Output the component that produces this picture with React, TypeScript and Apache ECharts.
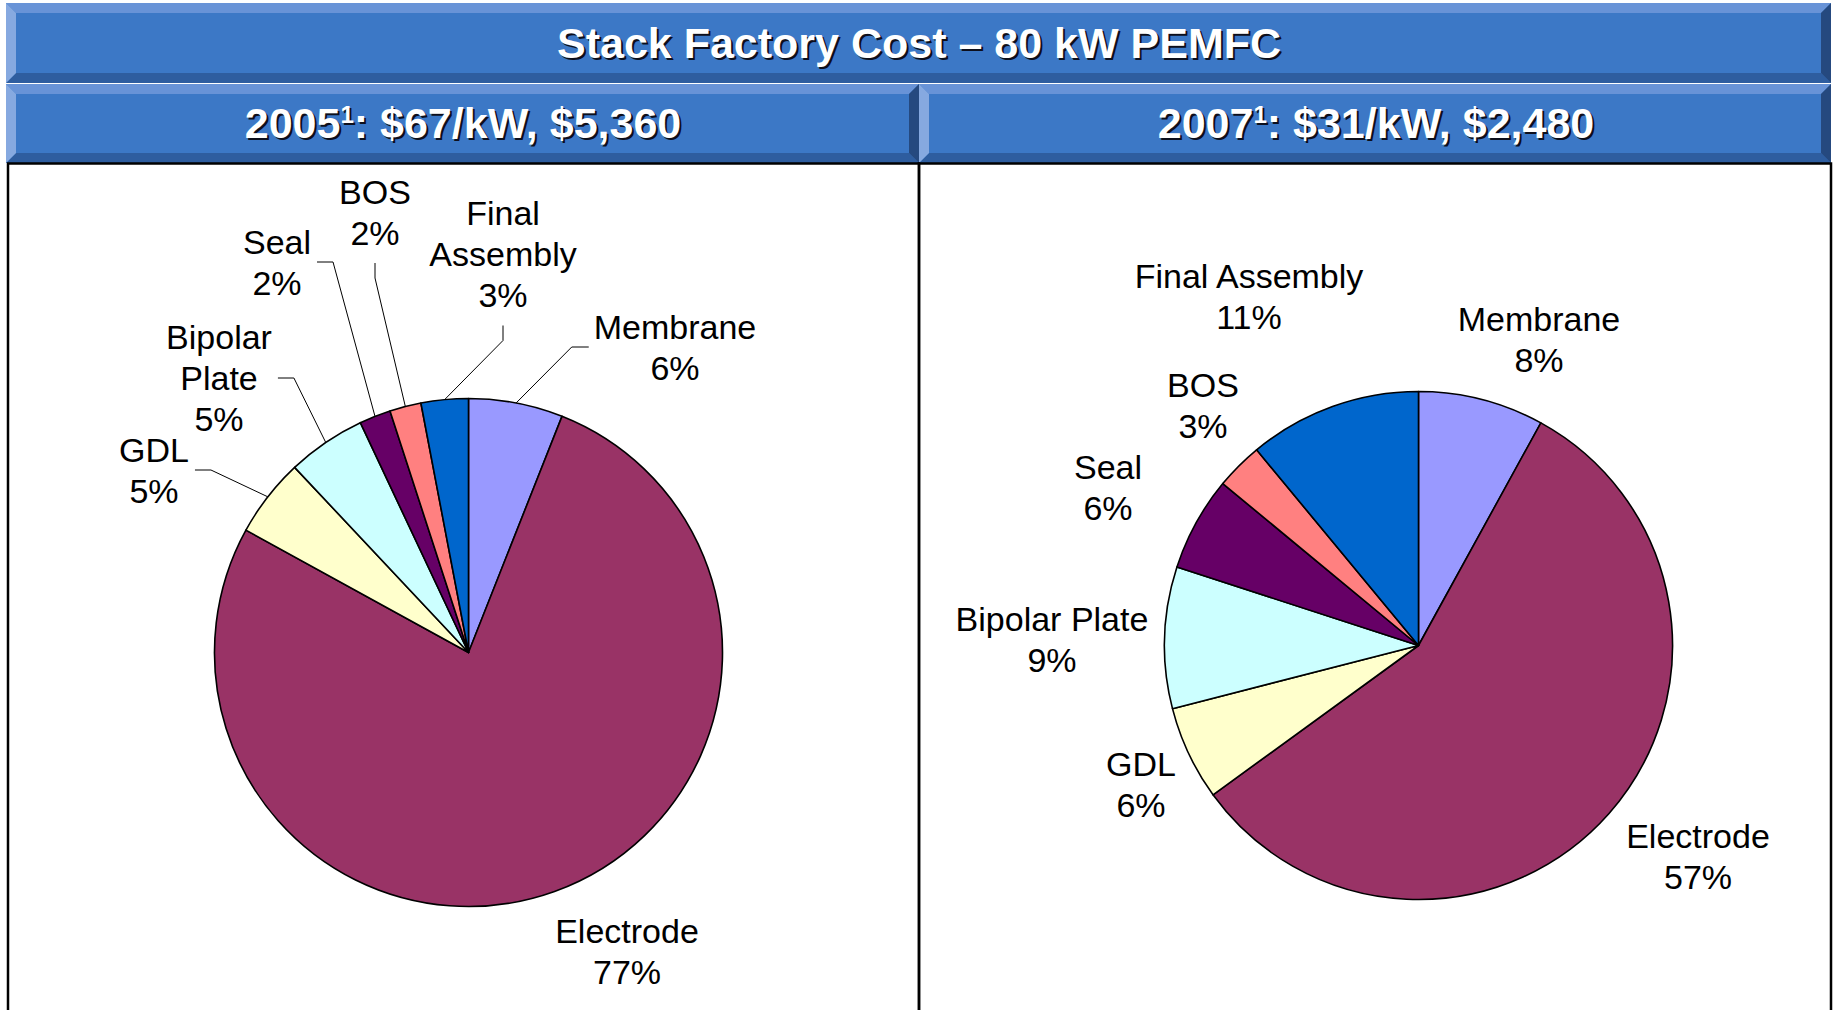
import React, { useEffect, useRef } from 'react';
import * as echarts from 'echarts';

// ---------- data ----------
const categories = ['Membrane', 'Electrode', 'GDL', 'Bipolar Plate', 'Seal', 'BOS', 'Final Assembly'];
const values2005 = [6, 77, 5, 5, 2, 2, 3];
const values2007 = [8, 57, 6, 9, 6, 3, 11];
const sliceColors = ['#9999FF', '#993366', '#FFFFCC', '#CCFFFF', '#660066', '#FF8080', '#0066CC'];
const chartTitle = 'Stack Factory Cost \u2013 80 kW PEMFC';
const panelYears = ['2005', '2007'];
const panelFootnote = '1';
const panelCosts = [': $67/kW, $5,360', ': $31/kW, $2,480'];

// ---------- layout (not data) ----------
const W = 1835;
const H = 1010;
const FONT = '"Liberation Sans", Arial, sans-serif';
// label block centres and which side the leader line attaches to
const leftLabelPos: [number, number, string][] = [
  [675, 347, 'left'],
  [627, 951, 'none'],
  [154, 470, 'right'],
  [219, 378, 'right'],
  [277, 262, 'right'],
  [375, 212, 'bottom'],
  [503, 254, 'bottom'],
];
const rightLabelPos: [number, number, string][] = [
  [1539, 339, 'none'],
  [1698, 856, 'none'],
  [1141, 784, 'none'],
  [1052, 639, 'none'],
  [1108, 487, 'none'],
  [1203, 405, 'none'],
  [1249, 296, 'none'],
];
const leftWrap: Record<string, string> = {
  'Bipolar Plate': 'Bipolar\nPlate',
  'Final Assembly': 'Final\nAssembly',
};

const C_MAIN = '#3C78C6';
const C_TOP = '#6893D7';
const C_LEFT = '#86A9E0';
const C_BOTTOM = '#2E5D9F';
const C_RIGHT = '#25497F';
const SHADOW = '#0d0f1c';

function bevelBar(x1: number, y1: number, x2: number, y2: number, b: number) {
  return [
    { type: 'rect', shape: { x: x1, y: y1, width: x2 - x1, height: y2 - y1 }, style: { fill: C_MAIN } },
    { type: 'polygon', shape: { points: [[x1, y1], [x2, y1], [x2 - b, y1 + b], [x1 + b, y1 + b]] }, style: { fill: C_TOP } },
    { type: 'polygon', shape: { points: [[x1, y2], [x2, y2], [x2 - b, y2 - b], [x1 + b, y2 - b]] }, style: { fill: C_BOTTOM } },
    { type: 'polygon', shape: { points: [[x1, y1], [x1 + b, y1 + b], [x1 + b, y2 - b], [x1, y2]] }, style: { fill: C_LEFT } },
    { type: 'polygon', shape: { points: [[x2, y1], [x2 - b, y1 + b], [x2 - b, y2 - b], [x2, y2]] }, style: { fill: C_RIGHT } },
  ];
}

function headerText(x: number, y: number, i: number, color: string) {
  return {
    type: 'text',
    x,
    y,
    style: {
      text: `{m|${panelYears[i]}}{s|${panelFootnote}}{m|${panelCosts[i]}}`,
      align: 'center',
      verticalAlign: 'middle',
      fill: color,
      font: `bold 43px ${FONT}`,
      rich: {
        m: { fontSize: 43, fontWeight: 'bold', fontFamily: FONT, fill: color, lineHeight: 42 },
        s: { fontSize: 24, fontWeight: 'bold', fontFamily: FONT, fill: color, lineHeight: 26, verticalAlign: 'top' },
      },
    },
  };
}

function titleText(x: number, y: number, color: string) {
  return {
    type: 'text',
    x,
    y,
    style: {
      text: chartTitle,
      align: 'center',
      verticalAlign: 'middle',
      fill: color,
      font: `bold 43px ${FONT}`,
    },
  };
}

function pieSeries(values: number[], center: [number, number], pos: [number, number, string][], wrap: boolean) {
  return {
    type: 'pie',
    center,
    radius: 254,
    startAngle: 90,
    clockwise: true,
    avoidLabelOverlap: false,
    silent: true,
    percentPrecision: 0,
    emphasis: { disabled: true },
    itemStyle: { borderColor: '#000', borderWidth: 1.6 },
    label: {
      show: true,
      position: 'outside',
      color: '#000',
      fontFamily: FONT,
      fontSize: 34,
      lineHeight: 41,
      align: 'center',
      formatter: (p: any) => `${wrap && leftWrap[p.name] ? leftWrap[p.name] : p.name}\n${p.percent}%`,
    },
    labelLine: { show: true, length: 10, length2: 10, smooth: false, lineStyle: { color: '#000', width: 1 } },
    labelLayout: (params: any) => {
      const p = pos[params.dataIndex];
      const w = params.labelRect.width;
      const h = params.labelRect.height;
      const res: any = { x: p[0], y: p[1], align: 'center', verticalAlign: 'middle' };
      const a = params.labelLinePoints && params.labelLinePoints[0];
      if (a && p[2] !== 'none') {
        let end: number[] = [p[0], p[1]];
        let elbow: number[] = [p[0], p[1]];
        if (p[2] === 'left') {
          end = [p[0] - w / 2 - 5, p[1]];
          elbow = [end[0] - 17, end[1]];
        } else if (p[2] === 'right') {
          end = [p[0] + w / 2 + 6, p[1]];
          elbow = [end[0] + 16, end[1]];
        } else {
          end = [p[0], p[1] + h / 2 + 10];
          elbow = [p[0], end[1] + 15];
        }
        res.labelLinePoints = [[a[0], a[1]], elbow, end];
      }
      return res;
    },
    data: values.map((v, i) => ({
      name: categories[i],
      value: v,
      itemStyle: { color: sliceColors[i] },
      labelLine: { show: pos[i][2] !== 'none' },
    })),
  };
}

export default function App() {
  const ref = useRef<HTMLDivElement>(null);
  useEffect(() => {
    document.body.style.margin = '0';
    const chart = echarts.init(ref.current!, undefined, { renderer: 'svg' });
    const elements: any[] = [
      ...bevelBar(6, 3, 1831, 83, 10),
      ...bevelBar(6, 84, 919, 163, 10),
      ...bevelBar(919, 84, 1831, 163, 10),
      titleText(921, 45, SHADOW),
      titleText(919, 43, '#fff'),
      headerText(465, 125, 0, SHADOW),
      headerText(463, 123, 0, '#fff'),
      headerText(1378, 125, 1, SHADOW),
      headerText(1376, 123, 1, '#fff'),
      { type: 'rect', shape: { x: 8, y: 163.5, width: 911, height: 900 }, style: { fill: 'transparent', stroke: '#000', lineWidth: 2.5 } },
      { type: 'rect', shape: { x: 919, y: 163.5, width: 912, height: 900 }, style: { fill: 'transparent', stroke: '#000', lineWidth: 2.5 } },
    ];
    chart.setOption({
      animation: false,
      backgroundColor: '#fff',
      textStyle: { fontFamily: FONT },
      graphic: { elements },
      series: [
        pieSeries(values2005, [468.5, 652.5], leftLabelPos, true),
        pieSeries(values2007, [1418.5, 645.5], rightLabelPos, false),
      ],
    });
    return () => chart.dispose();
  }, []);
  return <div ref={ref} style={{ position: 'fixed', left: 0, top: 0, width: W, height: H, background: '#fff' }} />;
}
